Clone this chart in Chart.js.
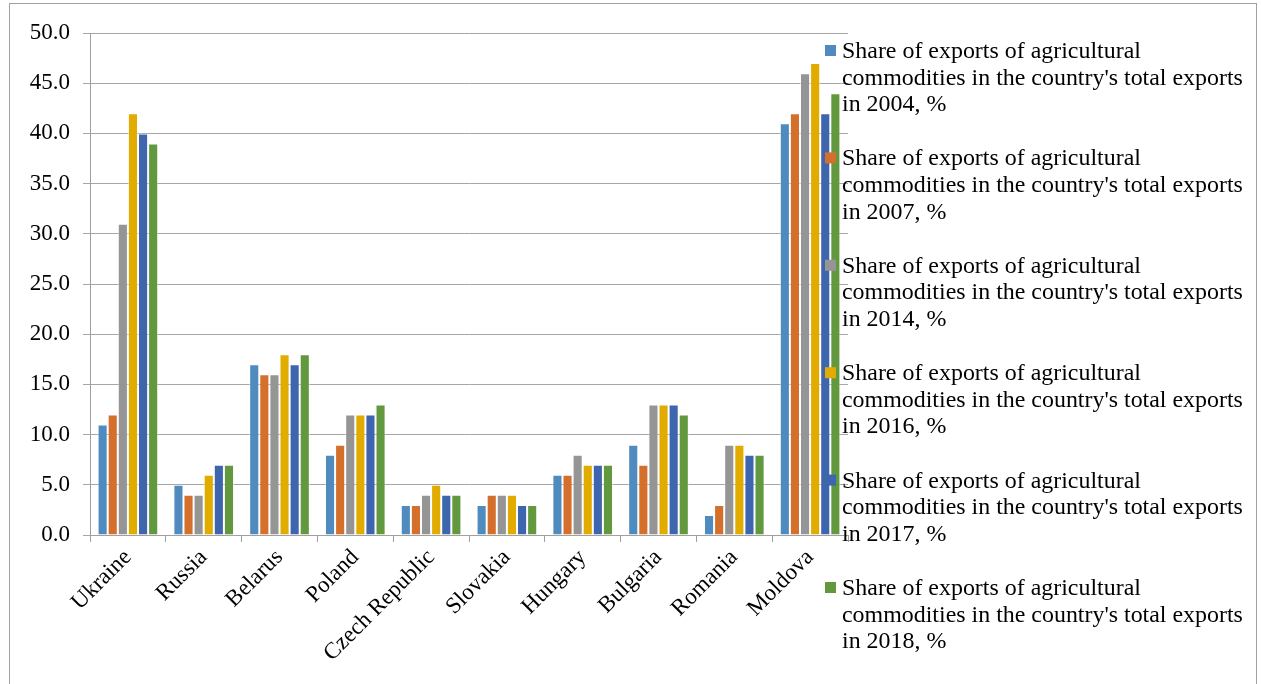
<!DOCTYPE html>
<html>
<head>
<meta charset="utf-8">
<script src="https://cdn.jsdelivr.net/npm/chart.js@4.4.0/dist/chart.umd.min.js"></script>
<style>
html,body{margin:0;padding:0;background:#fff;}
canvas{display:block;}
</style>
</head>
<body>
<canvas id="c" width="1261" height="684"></canvas>
<script>
const categories = ["Ukraine","Russia","Belarus","Poland","Czech Republic","Slovakia","Hungary","Bulgaria","Romania","Moldova"];
const seriesLabels = [
  "Share of exports of agricultural commodities in the country's total exports in 2004, %",
  "Share of exports of agricultural commodities in the country's total exports in 2007, %",
  "Share of exports of agricultural commodities in the country's total exports in 2014, %",
  "Share of exports of agricultural commodities in the country's total exports in 2016, %",
  "Share of exports of agricultural commodities in the country's total exports in 2017, %",
  "Share of exports of agricultural commodities in the country's total exports in 2018, %"
];
const y2004 = [11, 5, 17, 8, 3, 3, 6, 9, 2, 41];
const y2007 = [12, 4, 16, 9, 3, 4, 6, 7, 3, 42];
const y2014 = [31, 4, 16, 12, 4, 4, 8, 13, 9, 46];
const y2016 = [42, 6, 18, 12, 5, 4, 7, 13, 9, 47];
const y2017 = [40, 7, 17, 12, 4, 3, 7, 13, 8, 42];
const y2018 = [39, 7, 18, 13, 4, 3, 7, 12, 8, 44];
const yTicks = [0, 5, 10, 15, 20, 25, 30, 35, 40, 45, 50];
const legendLines = [
  ["Share of exports of agricultural", "commodities in the country's total exports", "in 2004, %"],
  ["Share of exports of agricultural", "commodities in the country's total exports", "in 2007, %"],
  ["Share of exports of agricultural", "commodities in the country's total exports", "in 2014, %"],
  ["Share of exports of agricultural", "commodities in the country's total exports", "in 2016, %"],
  ["Share of exports of agricultural", "commodities in the country's total exports", "in 2017, %"],
  ["Share of exports of agricultural", "commodities in the country's total exports", "in 2018, %"]
];

const colors = ["#4f8bbf","#d46f2c","#959595","#e1ab00","#3e66ae","#62993e"];
const allSeries = [y2004, y2007, y2014, y2016, y2017, y2018];
const FONT = "'Liberation Serif', 'Times New Roman', serif";

const frame = {
  id: 'frame',
  beforeDraw(chart) {
    const ctx = chart.ctx;
    ctx.save();
    ctx.fillStyle = '#fff';
    ctx.fillRect(0, 0, chart.width, chart.height);
    ctx.strokeStyle = '#a0a0a0';
    ctx.lineWidth = 1;
    ctx.strokeRect(9.5, 3.5, 1247, 720);
    ctx.restore();
  }
};

const customLegend = {
  id: 'customLegend',
  afterDraw(chart) {
    const ctx = chart.ctx;
    ctx.save();
    ctx.font = "23px " + FONT;
    ctx.textBaseline = 'alphabetic';
    ctx.textAlign = 'left';
    chart.data.datasets.forEach((ds, i) => {
      const base = 58 + i * 107.4;
      ctx.fillStyle = ds.backgroundColor;
      ctx.fillRect(825, base - 13, 11, 11);
      ctx.fillStyle = '#000';
      legendLines[i].forEach((ln, j) => {
        ctx.save();
        ctx.translate(842, base + j * 26.6);
        ctx.scale(1.04, 1);
        ctx.fillText(ln, 0, 0);
        ctx.restore();
      });
    });
    ctx.restore();
  }
};

new Chart(document.getElementById('c'), {
  type: 'bar',
  data: {
    labels: categories,
    datasets: allSeries.map((d, i) => ({
      label: seriesLabels[i],
      data: d,
      backgroundColor: colors[i],
      borderColor: 'rgba(255,255,255,0.5)',
      borderWidth: 1,
      barPercentage: 1.0,
      categoryPercentage: 0.8
    }))
  },
  options: {
    responsive: false,
    animation: false,
    devicePixelRatio: 1,
    layout: { padding: { left: 0, top: 33, right: 413, bottom: 0 } },
    plugins: {
      legend: { display: false },
      tooltip: { enabled: false }
    },
    scales: {
      x: {
        grid: {
          offset: true,
          drawOnChartArea: false,
          drawTicks: true,
          tickLength: 7,
          color: '#a0a0a0'
        },
        border: { color: '#a0a0a0', width: 1 },
        ticks: {
          maxRotation: 45,
          minRotation: 45,
          autoSkip: false,
          padding: 2,
          color: '#000',
          font: { family: FONT, size: 23 }
        },
        afterFit(scale) { scale.height = 149; }
      },
      y: {
        min: 0,
        max: 50,
        afterBuildTicks(scale) { scale.ticks = yTicks.map(v => ({ value: v })); },
        grid: {
          color: '#a6a6a6',
          lineWidth: 1,
          tickLength: 7
        },
        border: { color: '#a0a0a0', width: 1 },
        ticks: {
          padding: 13,
          color: '#000',
          font: { family: FONT, size: 23 },
          callback: v => Number(v).toFixed(1)
        },
        afterFit(scale) { scale.width = 90; }
      }
    }
  },
  plugins: [frame, customLegend]
});
</script>
</body>
</html>
